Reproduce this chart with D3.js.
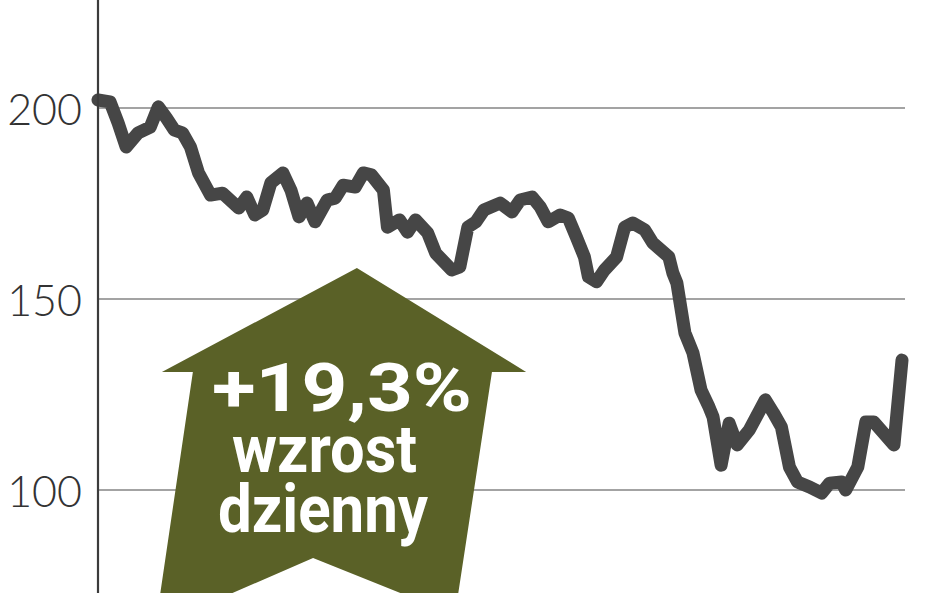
<!DOCTYPE html>
<html>
<head>
<meta charset="utf-8">
<script src="https://cdn.jsdelivr.net/npm/d3@7"></script>
<style>
  html, body { margin: 0; padding: 0; background: #fff; overflow: hidden; }
  svg { display: block; }
</style>
</head>
<body>
<svg id="chart" width="948" height="593"></svg>
<script>
// session number (approx.) and closing price
const days = [0, 3, 5, 7, 10, 13, 15, 17, 19, 21, 23, 25, 28, 31, 35, 37, 39, 41, 43, 46,
  48, 50, 52, 54, 57, 59, 61, 64, 66, 68, 71, 72, 75, 77, 79, 82, 84, 88, 90, 92,
  94, 96, 100, 103, 105, 108, 110, 112, 115, 117, 119, 121, 122, 124, 126, 129, 131, 133, 136, 138,
  142, 143, 144, 146, 148, 150, 152, 153, 155, 157, 159, 162, 166, 168, 170, 172, 174, 177, 180, 182,
  185, 186, 189, 191, 193, 198, 200];
const prices = [202.1, 201.6, 196.1, 189.8, 193.5, 195.0, 200.3, 197.4, 194.2, 193.5, 189.8, 183.0, 177.2, 177.7, 173.8, 176.7, 172.0, 173.3, 180.4, 183.0,
  178.5, 171.5, 175.1, 170.2, 175.9, 176.4, 179.8, 179.3, 183.0, 182.5, 178.5, 168.8, 170.7, 167.5, 170.7, 167.3, 162.0, 157.6, 158.4, 168.8,
  170.2, 173.3, 175.1, 172.8, 175.9, 176.7, 174.1, 170.2, 172.0, 171.2, 166.2, 161.0, 155.8, 154.5, 157.6, 161.0, 168.8, 169.9, 168.1, 164.7,
  161.0, 156.8, 154.2, 141.1, 135.9, 126.2, 121.7, 119.1, 106.5, 117.5, 111.8, 115.7, 123.6, 120.2, 116.5, 106.0, 102.1, 100.8, 99.2, 101.8,
  102.1, 100.0, 106.0, 117.8, 117.8, 111.8, 134.0];
const yTicks = [100, 150, 200];

// annotation: arrow outline in (session, price) units + its labels
const arrowDays = [64.4, 106.5, 98.0, 88.8, 53.5, 20.9, 14.7, 23.6, 15.9];
const arrowPrices = [158.1, 130.9, 130.9, 67.3, 82.2, 67.3, 67.3, 130.9, 130.9];
const labelLines = ['+19,3%', 'wzrost', 'dzienny'];

const width = 948, height = 593;
const svg = d3.select('#chart');

const x = d3.scaleLinear().domain([0, 200]).range([98, 902]);
const y = d3.scaleLinear().domain([100, 200]).range([490, 108]);

// gridlines
svg.append('g')
  .selectAll('line')
  .data(yTicks)
  .join('line')
    .attr('x1', x(0))
    .attr('x2', x(200) + 3)
    .attr('y1', d => y(d))
    .attr('y2', d => y(d))
    .attr('stroke', '#a3a3a3')
    .attr('stroke-width', 2.2);

// tick labels
svg.append('g')
  .selectAll('text')
  .data(yTicks)
  .join('text')
    .attr('x', 82)
    .attr('y', d => y(d) + 17)
    .attr('text-anchor', 'end')
    .attr('font-family', 'Lato, "Open Sans", sans-serif')
    .attr('font-weight', 300)
    .attr('font-size', 43)
    .attr('fill', '#333')
    .text(d => d);

// arrow
const arrowPts = arrowDays.map((d, i) => [x(d), y(arrowPrices[i])]);
svg.append('path')
  .attr('d', d3.line()(arrowPts) + 'Z')
  .attr('fill', '#5a6127');

// label as one text block, one tspan per line
const labelX = [212, 232, 218];
const labelW = [260, 185, 210];
const labelY = [411, 472, 532];
svg.append('text')
    .attr('font-family', 'Roboto, "DejaVu Sans", sans-serif')
    .attr('font-weight', 700)
    .attr('font-size', 66)
    .attr('fill', '#fff')
  .selectAll('tspan')
  .data(labelLines)
  .join('tspan')
    .attr('x', (d, i) => labelX[i])
    .attr('y', (d, i) => labelY[i])
    .attr('textLength', (d, i) => labelW[i])
    .attr('lengthAdjust', 'spacingAndGlyphs')
    .text(d => d);

// price line
const line = d3.line()
  .x(d => x(d[0]))
  .y(d => y(d[1]));

svg.append('path')
  .datum(days.map((d, i) => [d, prices[i]]))
  .attr('d', line)
  .attr('fill', 'none')
  .attr('stroke', '#464646')
  .attr('stroke-width', 13)
  .attr('stroke-linejoin', 'round')
  .attr('stroke-linecap', 'round');

// y axis line
svg.append('line')
  .attr('x1', x(0))
  .attr('x2', x(0))
  .attr('y1', 0)
  .attr('y2', height)
  .attr('stroke', '#3c3c3c')
  .attr('stroke-width', 2.2);
</script>
</body>
</html>
